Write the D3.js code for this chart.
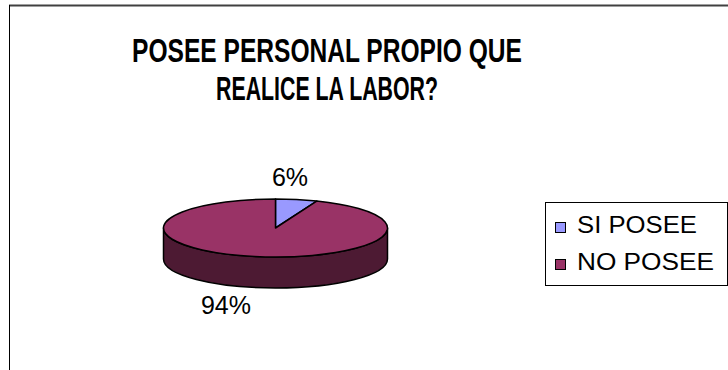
<!DOCTYPE html>
<html>
<head>
<meta charset="utf-8">
<script src="https://cdn.jsdelivr.net/npm/d3@7/dist/d3.min.js"></script>
<style>
  html, body { margin: 0; padding: 0; background: #fff; }
  svg { display: block; }
  text { font-family: Arial, "Liberation Sans", sans-serif; }
</style>
</head>
<body>
<svg id="chart" width="728" height="370"></svg>
<script>
// Chart data
const titleLines = ["POSEE PERSONAL PROPIO QUE", "REALICE LA LABOR?"];
const categories = ["SI POSEE", "NO POSEE"];
const values = [6, 94];
const valueLabels = ["6%", "94%"];
const topColors = ["#9999FF", "#993366"];
const sideColors = ["#4D4D80", "#4D1A33"];

const svg = d3.select("#chart");
const W = 728, H = 370;

// Outer frame (top and left edges)
svg.append("line").attr("x1", 9).attr("x2", W).attr("y1", 5.5).attr("y2", 5.5)
  .attr("stroke", "#404040").attr("stroke-width", 2);
svg.append("line").attr("x1", 9.5).attr("x2", 9.5).attr("y1", 5).attr("y2", H)
  .attr("stroke", "#000").attr("stroke-width", 1);

// Title: condensed bold lines, each squeezed horizontally to its width
const titleWidths = [390, 222];
titleLines.forEach((t, i) => {
  const g = svg.append("g");
  const txt = g.append("text").attr("font-weight", "bold").attr("font-size", 34)
    .attr("text-anchor", "middle").attr("fill", "#000").text(t);
  const sx = titleWidths[i] / txt.node().getComputedTextLength();
  g.attr("transform", `translate(327,${62 + i * 38}) scale(${sx},1)`);
});

// 3D pie geometry
const cx = 275.5, cy = 228, rx = 112, ry = 29, depth = 31;
const pt = (a, dy = 0) => [cx + rx * Math.sin(a), cy - ry * Math.cos(a) + dy];

const pie = d3.pie().sort(null).startAngle(0).endAngle(2 * Math.PI);
const arcs = pie(values);

function ellArc(a0, a1, dy, sweep) {
  const p = pt(a1, dy);
  const large = Math.abs(a1 - a0) > Math.PI ? 1 : 0;
  return `A${rx},${ry} 0 ${large} ${sweep} ${p[0]},${p[1]}`;
}

// Side walls: only the front half (between 3 and 9 o'clock) is visible
const sides = svg.append("g");
arcs.forEach((d, i) => {
  const s = Math.max(d.startAngle, Math.PI / 2);
  const e = Math.min(d.endAngle, 3 * Math.PI / 2);
  if (e <= s) return;
  const p0 = pt(s), p1b = pt(e, depth);
  const path = `M${p0[0]},${p0[1]} ${ellArc(s, e, 0, 1)} L${p1b[0]},${p1b[1]} ${ellArc(e, s, depth, 0)} Z`;
  sides.append("path").attr("d", path)
    .attr("fill", sideColors[i]).attr("stroke", "#000").attr("stroke-width", 1.5)
    .attr("stroke-linejoin", "round");
});

// Top faces
const tops = svg.append("g");
arcs.forEach((d, i) => {
  const p0 = pt(d.startAngle);
  const path = `M${cx},${cy} L${p0[0]},${p0[1]} ${ellArc(d.startAngle, d.endAngle, 0, 1)} Z`;
  tops.append("path").attr("d", path)
    .attr("fill", topColors[i]).attr("stroke", "#000").attr("stroke-width", 1.5)
    .attr("stroke-linejoin", "round");
});

// Percentage labels
const labelPos = [[290, 186], [226, 314]];
svg.append("g").attr("font-size", 25).attr("text-anchor", "middle").attr("fill", "#000")
  .selectAll("text").data(valueLabels).join("text")
  .attr("x", (d, i) => labelPos[i][0]).attr("y", (d, i) => labelPos[i][1])
  .text(d => d);

// Legend
const legend = svg.append("g");
legend.append("rect").attr("x", 545.5).attr("y", 202.5).attr("width", 182).attr("height", 83)
  .attr("fill", "#fff").attr("stroke", "#000").attr("stroke-width", 1);
const legendWidths = [120, 137];
categories.forEach((c, i) => {
  const y = 222 + i * 37;
  legend.append("rect").attr("x", 555.5).attr("y", y + 0.5).attr("width", 10).attr("height", 10)
    .attr("fill", topColors[i]).attr("stroke", "#000").attr("stroke-width", 1);
  legend.append("text").attr("x", 577).attr("y", y + 11).attr("font-size", 23)
    .attr("textLength", legendWidths[i]).attr("lengthAdjust", "spacingAndGlyphs")
    .text(c);
});
</script>
</body>
</html>
